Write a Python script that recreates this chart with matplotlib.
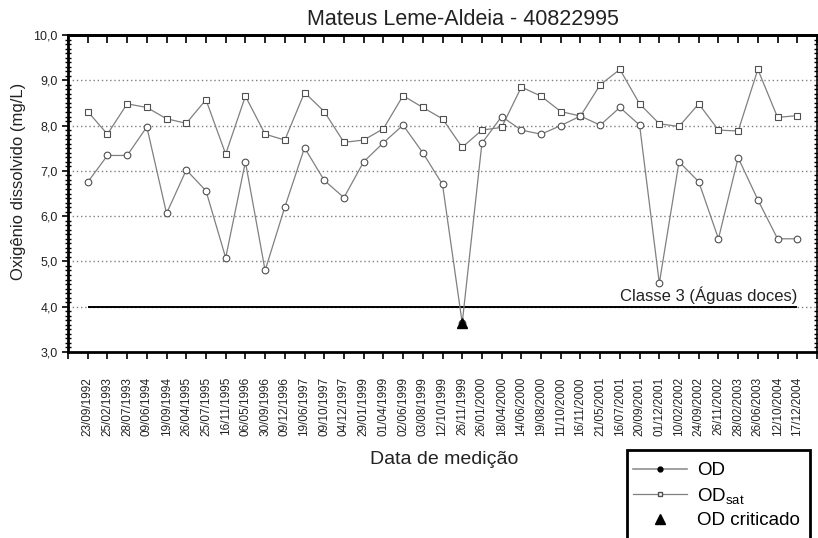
import matplotlib.pyplot as plt
import numpy as np
from matplotlib.lines import Line2D
from matplotlib.patches import Rectangle
from matplotlib.ticker import MultipleLocator, FuncFormatter

plt.rcParams['font.family'] = ['Liberation Sans', 'DejaVu Sans']
plt.rcParams['mathtext.default'] = 'regular'

# datas de medição
datas = ['23/09/1992', '25/02/1993', '28/07/1993', '09/06/1994', '19/09/1994',
         '26/04/1995', '25/07/1995', '16/11/1995', '06/05/1996', '30/09/1996',
         '09/12/1996', '19/06/1997', '09/10/1997', '04/12/1997', '29/01/1999',
         '01/04/1999', '02/06/1999', '03/08/1999', '12/10/1999', '26/11/1999',
         '26/01/2000', '18/04/2000', '14/06/2000', '19/08/2000', '11/10/2000',
         '16/11/2000', '21/05/2001', '16/07/2001', '20/09/2001', '01/12/2001',
         '10/02/2002', '24/09/2002', '26/11/2002', '28/02/2003', '26/06/2003',
         '12/10/2004', '17/12/2004']

# oxigênio dissolvido (mg/L)
od = [6.75, 7.34, 7.34, 7.97, 6.06, 7.02, 6.56, 5.08, 7.20, 4.80,
      6.20, 7.51, 6.79, 6.41, 7.20, 7.62, 8.01, 7.40, 6.70, 3.64,
      7.61, 8.20, 7.90, 7.81, 8.00, 8.21, 8.01, 8.40, 8.01, 4.52,
      7.20, 6.76, 5.50, 7.29, 6.36, 5.50, 5.50]

# oxigênio de saturação (mg/L)
od_sat = [8.31, 7.81, 8.48, 8.40, 8.15, 8.05, 8.57, 7.37, 8.65, 7.81,
          7.68, 8.73, 8.31, 7.63, 7.68, 7.93, 8.66, 8.40, 8.15, 7.52,
          7.90, 7.96, 8.85, 8.65, 8.31, 8.21, 8.90, 9.24, 8.48, 8.04,
          7.98, 8.48, 7.90, 7.88, 9.24, 8.18, 8.22]

# OD abaixo do limite da classe
od_crit_datas = ['26/11/1999']
od_crit = [3.64]

limite_classe3 = 4.0

x = np.arange(len(datas))
x_crit = [datas.index(d) for d in od_crit_datas]

fig = plt.figure(figsize=(8.18, 5.38), dpi=100)
ax = fig.add_axes([68 / 818, 1 - 352 / 538, (817 - 68) / 818, (352 - 35) / 538])

for y in range(4, 10):
    ax.axhline(y, color='#808080', lw=1.0, ls=(0, (1, 2)), zorder=1)

ax.hlines(limite_classe3, x[0], x[-1], color='black', lw=1.4, zorder=2)
ax.text(x[-1], limite_classe3 + 0.07, 'Classe 3 (Águas doces)', ha='right', va='bottom',
        fontsize=12, color='#222222')

ax.plot(x, od_sat, color='#808080', lw=0.9, marker='s', ms=4.5, mfc='white',
        mec='#505050', mew=0.8, zorder=3)
ax.plot(x, od, color='#808080', lw=0.9, marker='o', ms=4.8, mfc='white',
        mec='#505050', mew=0.8, zorder=3)
ax.plot(x_crit, od_crit, ls='none', marker='^', ms=6.5, color='black', zorder=4)

ax.set_xlim(-1, len(datas))
ax.set_ylim(3, 10)
ax.set_xticks(x)
ax.set_xticklabels(datas, rotation=90, fontsize=8.5, color='#222222')
ax.xaxis.set_minor_locator(MultipleLocator(1))
ax.yaxis.set_major_locator(MultipleLocator(1))
ax.yaxis.set_minor_locator(MultipleLocator(0.1))
ax.yaxis.set_major_formatter(FuncFormatter(lambda v, p: f'{v:.1f}'.replace('.', ',')))

# marcas de baixo para fora, as de cima para dentro
ax.tick_params(axis='x', which='both', direction='out', length=5, width=1.2, pad=13)
topo = ax.secondary_xaxis('top')
topo.set_xticks(x)
topo.xaxis.set_minor_locator(MultipleLocator(1))
topo.tick_params(axis='x', which='both', direction='in', length=6, width=1.2,
                 labeltop=False)
topo.spines['top'].set_linewidth(2.0)

ax.tick_params(axis='y', which='major', direction='out', length=4, width=1.2,
               labelsize=9, right=True, labelcolor='#222222')
ax.tick_params(axis='y', which='minor', direction='inout', length=4, width=1.0, right=True)

for s in ['top', 'bottom', 'left', 'right']:
    ax.spines[s].set_linewidth(2.0)
ax.spines['right'].set_linewidth(1.2)

fig.text(19 / 818, 1 - 181 / 538, 'Oxigênio dissolvido (mg/L)', rotation=90,
         ha='center', va='center', fontsize=12, color='#222222')
fig.text(444 / 818, 1 - 459 / 538, 'Data de medição', ha='center', va='center',
         fontsize=14, color='#222222')
fig.text(463 / 818, 1 - 19.5 / 538, 'Mateus Leme-Aldeia - 40822995', ha='center',
         va='center', fontsize=15.5, color='#222222')

# caixa da legenda
fig.add_artist(Rectangle((627 / 818, -0.05), (810 - 627) / 818, 0.05 + 1 - 450 / 538,
                         transform=fig.transFigure, fill=False, lw=2.0,
                         edgecolor='black', clip_on=False))
handles = [
    Line2D([], [], color='#909090', lw=1.2, marker='o', ms=3.5, mfc='black', mec='black'),
    Line2D([], [], color='#808080', lw=0.9, marker='s', ms=3.5, mfc='white', mec='#505050'),
    Line2D([], [], ls='none', marker='^', ms=6.5, color='black'),
]
labels = ['OD', 'OD$_{sat}$', 'OD criticado']
fig.legend(handles, labels, loc='upper left', bbox_to_anchor=(633 / 818, 1 - 462 / 538),
           frameon=False, fontsize=13.5, handlelength=2.9, handletextpad=0.5,
           labelspacing=0.35, borderpad=0, borderaxespad=0)

fig.savefig('out.png', dpi=100)
